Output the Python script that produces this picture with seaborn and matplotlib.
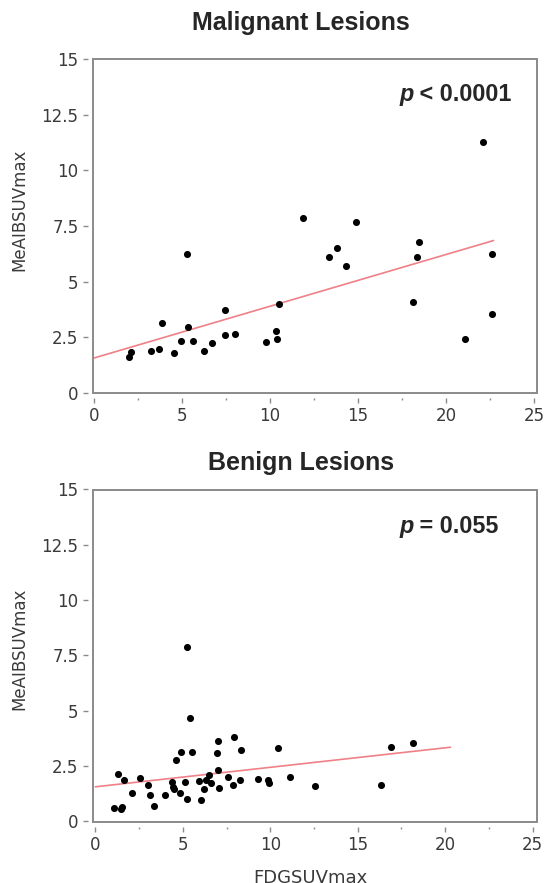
import numpy as np
import pandas as pd
import matplotlib
matplotlib.use("Agg")
import matplotlib.pyplot as plt
from matplotlib import font_manager
from matplotlib.patches import Rectangle
from matplotlib.ticker import MultipleLocator
import seaborn as sns

# values
mal_fdg = [2.02, 2.13, 3.26, 3.71, 3.88, 4.58, 4.95, 5.27, 5.33, 5.65, 6.27,
           6.73, 7.48, 7.48, 8.03, 9.80, 10.36, 10.42, 10.49, 11.87, 13.36,
           13.81, 14.32, 14.88, 18.14, 18.33, 18.46, 21.10, 22.10, 22.61, 22.61]
mal_meaib = [1.59, 1.83, 1.88, 1.98, 3.12, 1.79, 2.33, 6.26, 2.96, 2.33, 1.88,
             2.24, 3.72, 2.58, 2.63, 2.28, 2.78, 2.43, 3.98, 7.87, 6.11,
             6.52, 5.72, 7.70, 4.07, 6.11, 6.77, 2.43, 11.29, 6.26, 3.53]

ben_fdg = [1.04, 1.28, 1.47, 1.54, 1.62, 2.11, 2.55, 3.03, 3.10, 3.35, 3.97,
           4.37, 4.46, 4.52, 4.61, 4.86, 4.92, 5.11, 5.23, 5.25, 5.42, 5.54,
           5.92, 6.05, 6.21, 6.31, 6.48, 6.63, 6.93, 7.00, 7.00, 7.06, 7.57,
           7.87, 7.95, 8.25, 8.30, 9.30, 9.85, 9.94, 10.45, 11.13, 12.58,
           16.34, 16.91, 18.15]
ben_meaib = [0.60, 2.15, 0.55, 0.63, 1.85, 1.25, 1.95, 1.65, 1.19, 0.69, 1.19,
             1.77, 1.56, 1.44, 2.74, 1.25, 3.13, 1.75, 0.98, 7.88, 4.65, 3.13,
             1.79, 0.94, 1.43, 1.85, 2.10, 1.70, 3.08, 3.60, 2.33, 1.50, 2.00,
             1.63, 3.79, 1.85, 3.20, 1.89, 1.85, 1.74, 3.29, 2.00, 1.59,
             1.64, 3.34, 3.53]

mal_fit_range = [0, 22.7]
ben_fit_range = [0, 20.3]

titles = ["Malignant Lesions", "Benign Lesions"]
p_texts = [" < 0.0001", " = 0.055"]
x_ticks = [0, 5, 10, 15, 20, 25]
y_ticks = [0, 2.5, 5, 7.5, 10, 12.5, 15]
y_tick_labels = ["0", "2.5", "5", "7.5", "10", "12.5", "15"]

sns.set_style("white")
plt.rcParams["font.family"] = ["DejaVu Sans"]


def lib_sans(style):
    # pick the plain (not Narrow) Liberation Sans file for a given style
    for f in font_manager.fontManager.ttflist:
        if f.name == "Liberation Sans" and "Narrow" not in f.fname:
            base = f.fname.split("/")[-1].lower()
            if style in base:
                return font_manager.FontProperties(fname=f.fname)
    return font_manager.FontProperties(family="Liberation Sans", weight="bold")


bold_fp = lib_sans("-bold.")
bolditalic_fp = lib_sans("-bolditalic.")

W, H = 545, 883
fig = plt.figure(figsize=(W / 100, H / 100), dpi=100)

# frame boxes in pixels: left, top, right, bottom
boxes = [(92.7, 59.3, 536.7, 393.3), (92.7, 489.5, 536.7, 821.7)]
xlims = [(-0.06, 25.15), (-0.15, 25.23)]
title_y = [23, 463]
ylabel_y = [0.55, 0.52]
datasets = [(mal_fdg, mal_meaib, mal_fit_range), (ben_fdg, ben_meaib, ben_fit_range)]

frame_col = "#8a8a8a"
tick_col = "#3a3a3a"

for i, (xs, ys, fit_range) in enumerate(datasets):
    l, t, r, b = boxes[i]
    ax = fig.add_axes([l / W, 1 - b / H, (r - l) / W, (b - t) / H])
    df = pd.DataFrame({"FDGSUVmax": xs, "MeAIBSUVmax": ys})

    slope, intercept = np.polyfit(df["FDGSUVmax"], df["MeAIBSUVmax"], 1)
    fit = pd.DataFrame({"x": fit_range})
    fit["y"] = intercept + slope * fit["x"]
    sns.lineplot(data=fit, x="x", y="y", ax=ax, color="#f08088", lw=1.2)
    sns.scatterplot(data=df, x="FDGSUVmax", y="MeAIBSUVmax", ax=ax,
                    color="black", s=26, edgecolor="black", linewidth=0, zorder=3)

    ax.set_xlim(*xlims[i])
    ax.set_ylim(-0.03, 15)
    ax.set_xticks(x_ticks)
    ax.xaxis.set_minor_locator(MultipleLocator(2.5))
    ax.set_yticks(y_ticks)
    ax.set_yticklabels(y_tick_labels)
    ax.tick_params(axis="both", which="major", direction="out", length=3.6,
                   width=1, color=frame_col, labelcolor=tick_col, labelsize=12,
                   pad=3, left=True, bottom=True)
    ax.tick_params(axis="x", which="minor", direction="out", length=1.6,
                   width=1, color=frame_col, bottom=True)

    # ticks sit a few pixels away from the frame, JMP style
    for side in ["left", "bottom"]:
        ax.spines[side].set_position(("outward", 3.6))
    for sp in ax.spines.values():
        sp.set_visible(False)
    ax.add_patch(Rectangle((0, 0), 1, 1, transform=ax.transAxes, fill=False,
                           edgecolor=frame_col, lw=1.4, clip_on=False, zorder=5))

    ax.set_ylabel("MeAIBSUVmax", fontsize=12, color=tick_col)
    ax.yaxis.set_label_coords(-0.146, ylabel_y[i])
    if i == 1:
        ax.set_xlabel("FDGSUVmax", fontsize=13, color=tick_col)
        ax.xaxis.set_label_coords(0.49, -0.143)
    else:
        ax.set_xlabel("")

    tp = ax.text(0.69, 0.895 - 0.006 * i, "p", transform=ax.transAxes,
                 fontproperties=bolditalic_fp, fontsize=16.8, va="center", ha="left")
    ax.annotate(p_texts[i], xy=(1, 0), xycoords=tp, va="bottom", ha="left",
                fontproperties=bold_fp, fontsize=16.8)

    fig.text(301 / W, 1 - title_y[i] / H, titles[i], ha="center", va="center",
             fontproperties=bold_fp, fontsize=18)

fig.savefig("out.png", dpi=100)
